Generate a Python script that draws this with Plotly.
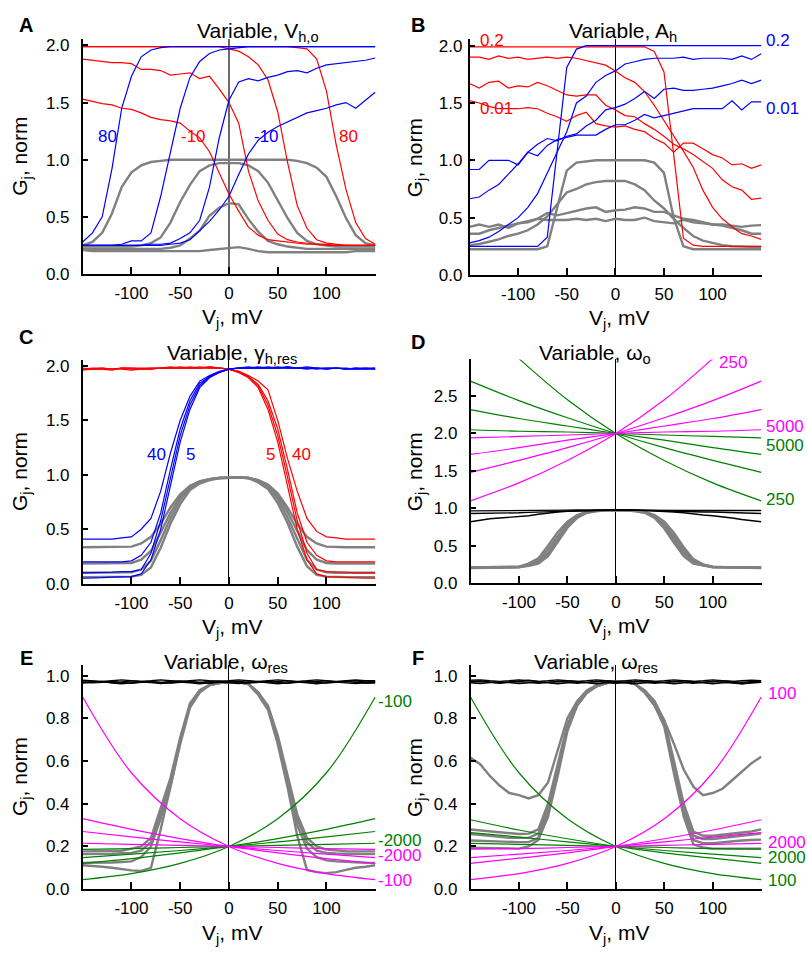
import plotly.graph_objects as go

W, H = 807, 957
FONT = "Arial, Liberation Sans, sans-serif"

RED, BLUE, GRAY, BLACK = "#FF0000", "#0000FF", "#808080", "#000000"
GREEN, MAG = "#008000", "#FF00FF"

V = [-150, -140, -130, -120, -110, -100, -90, -80, -70, -60, -50, -40, -30, -20, -10,
     0, 10, 20, 30, 40, 50, 60, 70, 80, 90, 100, 110, 120, 130, 140, 150]
V7 = [-150, -100, -50, 0, 50, 100, 150]

# ---------------- Panel A : Variable Vh,o ----------------
A_red = [
    [1.99, 1.99, 1.99, 1.99, 1.99, 1.99, 1.99, 1.99, 1.99, 1.99, 1.99, 1.99, 1.99, 1.99, 1.99, 1.99,
     1.99, 1.99, 1.99, 1.99, 1.99, 1.99, 1.98, 1.97, 1.88, 1.60, 1.13, 0.74, 0.45, 0.31, 0.26],
    [1.99, 1.99, 1.99, 1.99, 1.99, 1.99, 1.99, 1.99, 1.99, 1.99, 1.99, 1.99, 1.99, 1.99, 1.99, 1.97,
     1.95, 1.90, 1.83, 1.70, 1.42, 0.98, 0.60, 0.40, 0.30, 0.27, 0.26, 0.25, 0.25, 0.25, 0.25],
    [1.88, 1.87, 1.86, 1.85, 1.85, 1.84, 1.79, 1.79, 1.78, 1.74, 1.75, 1.76, 1.71, 1.73, 1.62, 1.50,
     1.32, 0.90, 0.64, 0.47, 0.35, 0.30, 0.28, 0.27, 0.26, 0.26, 0.25, 0.25, 0.25, 0.25, 0.25],
    [1.53, 1.51, 1.49, 1.48, 1.45, 1.44, 1.41, 1.37, 1.35, 1.34, 1.32, 1.25, 1.19, 1.07, 0.88, 0.70,
     0.55, 0.41, 0.34, 0.30, 0.29, 0.28, 0.27, 0.26, 0.26, 0.25, 0.25, 0.25, 0.25, 0.25, 0.25],
]
A_blue = [
    [0.28, 0.36, 0.50, 0.92, 1.45, 1.73, 1.90, 1.96, 1.98, 1.99, 1.99, 1.99, 1.99, 1.99, 1.99, 1.99,
     1.99, 1.99, 1.99, 1.99, 1.99, 1.99, 1.99, 1.99, 1.99, 1.99, 1.99, 1.99, 1.99, 1.99, 1.99],
    [0.25, 0.25, 0.25, 0.25, 0.26, 0.29, 0.29, 0.36, 0.68, 1.06, 1.45, 1.72, 1.86, 1.93, 1.96, 1.97,
     1.98, 1.99, 1.99, 1.99, 1.99, 1.99, 1.99, 1.99, 1.99, 1.99, 1.99, 1.99, 1.99, 1.99, 1.99],
    [0.25, 0.25, 0.25, 0.25, 0.25, 0.25, 0.25, 0.26, 0.26, 0.27, 0.31, 0.36, 0.47, 0.76, 1.19, 1.52,
     1.68, 1.71, 1.69, 1.72, 1.74, 1.77, 1.78, 1.76, 1.80, 1.83, 1.84, 1.85, 1.86, 1.87, 1.89],
    [0.25, 0.25, 0.25, 0.25, 0.25, 0.25, 0.25, 0.25, 0.25, 0.26, 0.27, 0.30, 0.38, 0.46, 0.56, 0.68,
     0.87, 1.05, 1.17, 1.24, 1.29, 1.33, 1.37, 1.41, 1.43, 1.45, 1.48, 1.50, 1.45, 1.52, 1.59],
]
A_gray = [
    [0.25, 0.28, 0.36, 0.53, 0.76, 0.89, 0.95, 0.98, 0.99, 1.00, 1.00, 1.00, 1.00, 1.00, 1.00, 1.00,
     1.00, 1.00, 1.00, 1.00, 1.00, 1.00, 0.99, 0.97, 0.93, 0.85, 0.68, 0.49, 0.34, 0.27, 0.25],
    [0.24, 0.24, 0.24, 0.24, 0.24, 0.24, 0.25, 0.27, 0.32, 0.45, 0.63, 0.78, 0.90, 0.95, 0.97, 0.97,
     0.97, 0.95, 0.90, 0.80, 0.65, 0.49, 0.36, 0.29, 0.26, 0.25, 0.24, 0.24, 0.24, 0.24, 0.24],
    [0.22, 0.22, 0.22, 0.22, 0.22, 0.22, 0.22, 0.22, 0.22, 0.23, 0.25, 0.31, 0.38, 0.51, 0.58, 0.62,
     0.61, 0.48, 0.37, 0.29, 0.26, 0.24, 0.23, 0.22, 0.22, 0.22, 0.22, 0.22, 0.22, 0.22, 0.22],
    [0.21, 0.20, 0.20, 0.20, 0.20, 0.20, 0.20, 0.20, 0.20, 0.20, 0.20, 0.20, 0.20, 0.21, 0.22, 0.23,
     0.235, 0.22, 0.20, 0.19, 0.19, 0.19, 0.19, 0.19, 0.19, 0.19, 0.19, 0.19, 0.20, 0.20, 0.20],
]

# ---------------- Panel B : Variable Ah ----------------
B_red = [
    [1.99, 1.99, 1.99, 1.99, 1.99, 1.99, 1.99, 1.99, 1.99, 1.99, 1.99, 1.99, 1.99, 1.99, 1.99, 1.99,
     1.99, 1.99, 1.99, 1.95, 1.77, 1.05, 0.32, 0.26, 0.25, 0.25, 0.25, 0.25, 0.25, 0.25, 0.25],
    [1.90, 1.90, 1.88, 1.91, 1.89, 1.90, 1.88, 1.89, 1.90, 1.89, 1.90, 1.89, 1.87, 1.85, 1.83, 1.78,
     1.72, 1.68, 1.60, 1.48, 1.35, 1.21, 1.08, 0.94, 0.74, 0.59, 0.49, 0.42, 0.36, 0.34, 0.31],
    [1.67, 1.63, 1.68, 1.69, 1.63, 1.65, 1.64, 1.68, 1.65, 1.61, 1.57, 1.56, 1.57, 1.57, 1.48, 1.44,
     1.39, 1.38, 1.32, 1.27, 1.21, 1.14, 1.10, 1.05, 0.99, 0.93, 0.83, 0.77, 0.74, 0.66, 0.67],
    [1.52, 1.50, 1.47, 1.45, 1.45, 1.45, 1.46, 1.45, 1.41, 1.38, 1.34, 1.39, 1.42, 1.32, 1.30, 1.29,
     1.30, 1.27, 1.25, 1.19, 1.15, 1.07, 1.15, 1.15, 1.10, 1.05, 1.02, 0.96, 0.97, 0.93, 0.96],
]
B_blue = [
    [0.25, 0.25, 0.25, 0.25, 0.25, 0.25, 0.25, 0.25, 0.33, 1.08, 1.81, 1.97, 2.00, 2.00, 2.00, 2.00,
     2.00, 2.00, 2.00, 2.00, 2.00, 2.00, 2.00, 2.00, 2.00, 2.00, 2.00, 2.00, 2.00, 2.00, 2.00],
    [0.28, 0.30, 0.33, 0.38, 0.44, 0.50, 0.59, 0.71, 0.89, 1.07, 1.25, 1.50, 1.56, 1.68, 1.74, 1.78,
     1.84, 1.86, 1.88, 1.89, 1.89, 1.89, 1.90, 1.88, 1.89, 1.89, 1.89, 1.88, 1.91, 1.88, 1.93],
    [0.665, 0.68, 0.74, 0.79, 0.88, 0.97, 1.07, 1.14, 1.19, 1.17, 1.21, 1.23, 1.30, 1.35, 1.44, 1.46,
     1.49, 1.54, 1.60, 1.54, 1.62, 1.63, 1.61, 1.61, 1.62, 1.63, 1.65, 1.67, 1.70, 1.67, 1.70],
    [0.92, 0.92, 1.00, 1.00, 1.00, 0.96, 1.07, 1.04, 1.13, 1.18, 1.20, 1.22, 1.22, 1.22, 1.27, 1.31,
     1.31, 1.35, 1.40, 1.37, 1.39, 1.41, 1.43, 1.45, 1.45, 1.45, 1.45, 1.52, 1.44, 1.51, 1.51],
]
B_gray = [
    [0.225, 0.225, 0.225, 0.225, 0.225, 0.225, 0.225, 0.225, 0.25, 0.58, 0.91, 0.98, 0.99, 1.00, 1.00, 1.00,
     1.00, 1.00, 1.00, 0.98, 0.89, 0.50, 0.25, 0.225, 0.225, 0.225, 0.225, 0.225, 0.225, 0.225, 0.225],
    [0.26, 0.27, 0.29, 0.31, 0.34, 0.36, 0.39, 0.44, 0.51, 0.62, 0.72, 0.75, 0.79, 0.81, 0.82, 0.82,
     0.82, 0.79, 0.74, 0.65, 0.58, 0.49, 0.41, 0.34, 0.30, 0.28, 0.26, 0.25, 0.245, 0.245, 0.245],
    [0.36, 0.36, 0.39, 0.41, 0.43, 0.45, 0.47, 0.49, 0.54, 0.52, 0.54, 0.56, 0.58, 0.59, 0.55, 0.565,
     0.57, 0.59, 0.58, 0.55, 0.55, 0.52, 0.49, 0.48, 0.46, 0.44, 0.43, 0.41, 0.39, 0.36, 0.36],
    [0.42, 0.44, 0.42, 0.44, 0.41, 0.45, 0.46, 0.49, 0.48, 0.48, 0.48, 0.49, 0.48, 0.49, 0.47, 0.49,
     0.48, 0.48, 0.50, 0.47, 0.46, 0.45, 0.48, 0.46, 0.45, 0.44, 0.44, 0.43, 0.42, 0.43, 0.435],
]

# ---------------- Panel C : Variable gamma h,res ----------------
C_blue = [
    [0.41, 0.41, 0.41, 0.41, 0.42, 0.43, 0.50, 0.60, 0.85, 1.20, 1.50, 1.72, 1.86, 1.91, 1.95, 1.97,
     1.98, 1.98, 1.99, 1.98, 1.98, 1.99, 1.98, 1.98, 1.97, 1.98, 1.98, 1.97, 1.98, 1.98, 1.98],
    [0.20, 0.20, 0.20, 0.20, 0.20, 0.21, 0.26, 0.38, 0.65, 1.05, 1.42, 1.68, 1.84, 1.90, 1.94, 1.97,
     1.98, 1.99, 1.98, 1.98, 1.99, 1.98, 1.98, 1.99, 1.98, 1.97, 1.98, 1.98, 1.97, 1.97, 1.98],
    [0.10, 0.10, 0.10, 0.105, 0.11, 0.11, 0.13, 0.28, 0.58, 0.98, 1.36, 1.64, 1.82, 1.90, 1.94, 1.97,
     1.98, 1.98, 1.98, 1.99, 1.98, 1.98, 1.98, 1.97, 1.98, 1.98, 1.98, 1.97, 1.97, 1.98, 1.97],
    [0.05, 0.05, 0.055, 0.06, 0.06, 0.065, 0.09, 0.22, 0.50, 0.90, 1.30, 1.60, 1.80, 1.89, 1.94, 1.97,
     1.98, 1.98, 1.98, 1.98, 1.98, 1.99, 1.98, 1.98, 1.98, 1.97, 1.98, 1.97, 1.98, 1.97, 1.97],
]
C_red = [
    [1.97, 1.98, 1.98, 1.97, 1.98, 1.98, 1.98, 1.98, 1.98, 1.98, 1.99, 1.98, 1.98, 1.99, 1.98, 1.97,
     1.95, 1.91, 1.86, 1.78, 1.50, 1.15, 0.85, 0.60, 0.48, 0.43, 0.42, 0.41, 0.41, 0.41, 0.41],
    [1.98, 1.97, 1.97, 1.96, 1.98, 1.98, 1.97, 1.97, 1.98, 1.99, 1.98, 1.98, 1.99, 1.98, 1.98, 1.97,
     1.95, 1.90, 1.83, 1.68, 1.42, 1.05, 0.65, 0.38, 0.26, 0.21, 0.20, 0.20, 0.20, 0.20, 0.20],
    [1.97, 1.97, 1.98, 1.97, 1.97, 1.96, 1.97, 1.98, 1.98, 1.98, 1.98, 1.99, 1.98, 1.98, 1.98, 1.97,
     1.94, 1.90, 1.82, 1.64, 1.36, 0.98, 0.58, 0.28, 0.13, 0.11, 0.11, 0.105, 0.10, 0.10, 0.10],
    [1.96, 1.97, 1.97, 1.97, 1.98, 1.97, 1.97, 1.97, 1.98, 1.98, 1.98, 1.98, 1.98, 1.99, 1.98, 1.97,
     1.94, 1.89, 1.80, 1.60, 1.30, 0.90, 0.50, 0.22, 0.09, 0.065, 0.06, 0.06, 0.055, 0.05, 0.05],
]
C_gray = [
    [0.335, 0.335, 0.335, 0.335, 0.335, 0.34, 0.37, 0.43, 0.55, 0.70, 0.82, 0.90, 0.94, 0.96, 0.97, 0.975,
     0.975, 0.97, 0.95, 0.91, 0.83, 0.70, 0.55, 0.43, 0.37, 0.34, 0.335, 0.335, 0.335, 0.335, 0.335],
    [0.185, 0.185, 0.185, 0.185, 0.185, 0.19, 0.22, 0.30, 0.47, 0.65, 0.80, 0.89, 0.94, 0.96, 0.97, 0.975,
     0.975, 0.97, 0.95, 0.90, 0.81, 0.66, 0.48, 0.31, 0.22, 0.19, 0.185, 0.185, 0.185, 0.185, 0.185],
    [0.10, 0.10, 0.10, 0.10, 0.10, 0.105, 0.13, 0.21, 0.40, 0.60, 0.77, 0.88, 0.93, 0.96, 0.97, 0.975,
     0.975, 0.97, 0.94, 0.89, 0.78, 0.61, 0.41, 0.22, 0.13, 0.105, 0.10, 0.10, 0.10, 0.10, 0.10],
    [0.06, 0.06, 0.06, 0.06, 0.06, 0.065, 0.08, 0.15, 0.33, 0.55, 0.73, 0.86, 0.92, 0.95, 0.97, 0.975,
     0.975, 0.97, 0.93, 0.87, 0.74, 0.56, 0.34, 0.16, 0.08, 0.065, 0.06, 0.06, 0.06, 0.06, 0.06],
]

# ---------------- Panel D : Variable omega o ----------------
D_green = [
    [None, 3.00, 2.45, 2.00, 1.64, 1.34, 1.10],
    [2.70, 2.44, 2.21, 2.00, 1.81, 1.64, 1.48],
    [2.32, 2.20, 2.10, 2.00, 1.91, 1.81, 1.72],
    [2.05, 2.03, 2.02, 2.00, 1.98, 1.96, 1.94],
]
D_mag = [
    [1.10, 1.34, 1.64, 2.00, 2.45, 3.00, None],
    [1.48, 1.64, 1.81, 2.00, 2.21, 2.44, 2.70],
    [1.72, 1.81, 1.91, 2.00, 2.10, 2.20, 2.32],
    [1.94, 1.96, 1.98, 2.00, 2.02, 2.03, 2.05],
]
D_gray = [
    [0.21, 0.21, 0.21, 0.21, 0.215, 0.22, 0.26, 0.33, 0.50, 0.68, 0.82, 0.91, 0.95, 0.97, 0.975, 0.975,
     0.975, 0.97, 0.95, 0.91, 0.82, 0.67, 0.48, 0.32, 0.25, 0.22, 0.215, 0.21, 0.21, 0.21, 0.21],
    [0.21, 0.21, 0.21, 0.21, 0.21, 0.215, 0.25, 0.30, 0.45, 0.63, 0.80, 0.90, 0.95, 0.97, 0.975, 0.975,
     0.975, 0.97, 0.95, 0.90, 0.79, 0.62, 0.44, 0.30, 0.24, 0.215, 0.21, 0.21, 0.21, 0.21, 0.21],
    [0.205, 0.205, 0.205, 0.21, 0.21, 0.215, 0.24, 0.28, 0.40, 0.58, 0.76, 0.88, 0.94, 0.97, 0.975, 0.975,
     0.975, 0.97, 0.94, 0.88, 0.76, 0.58, 0.40, 0.28, 0.24, 0.215, 0.21, 0.21, 0.205, 0.205, 0.205],
    [0.20, 0.20, 0.20, 0.205, 0.21, 0.21, 0.23, 0.26, 0.36, 0.55, 0.74, 0.87, 0.94, 0.96, 0.975, 0.975,
     0.975, 0.96, 0.94, 0.87, 0.73, 0.54, 0.36, 0.26, 0.23, 0.21, 0.21, 0.205, 0.20, 0.20, 0.20],
]
D_black = [
    [0.82, 0.84, 0.86, 0.87, 0.88, 0.88, 0.90, 0.92, 0.94, 0.95, 0.96, 0.965, 0.97, 0.975, 0.98, 0.98,
     0.98, 0.975, 0.97, 0.965, 0.96, 0.95, 0.94, 0.92, 0.91, 0.90, 0.89, 0.87, 0.85, 0.84, 0.82],
    [0.93, 0.93, 0.935, 0.94, 0.94, 0.94, 0.945, 0.95, 0.955, 0.96, 0.96, 0.965, 0.97, 0.975, 0.98, 0.98,
     0.98, 0.975, 0.97, 0.965, 0.965, 0.96, 0.955, 0.95, 0.95, 0.95, 0.945, 0.94, 0.94, 0.935, 0.93],
    [0.965, 0.965, 0.97, 0.968, 0.97, 0.97, 0.972, 0.97, 0.975, 0.975, 0.975, 0.978, 0.978, 0.98, 0.98, 0.982,
     0.98, 0.98, 0.978, 0.975, 0.975, 0.975, 0.972, 0.97, 0.97, 0.972, 0.97, 0.97, 0.968, 0.97, 0.97],
]

# ---------------- Panel E : Variable omega res ----------------
E_mag = [
    [0.90, 0.545, 0.33, 0.20, 0.121, 0.073, 0.045],
    [0.33, 0.28, 0.237, 0.20, 0.17, 0.143, 0.121],
    [0.27, 0.245, 0.221, 0.20, 0.181, 0.164, 0.148],
    [0.215, 0.21, 0.205, 0.20, 0.195, 0.19, 0.186],
]
E_green = [
    [0.045, 0.073, 0.121, 0.20, 0.33, 0.545, 0.90],
    [0.121, 0.143, 0.17, 0.20, 0.237, 0.28, 0.33],
    [0.148, 0.164, 0.181, 0.20, 0.221, 0.245, 0.27],
    [0.186, 0.19, 0.195, 0.20, 0.205, 0.21, 0.215],
]
E_gray = [
    [0.177, 0.177, 0.178, 0.18, 0.18, 0.19, 0.20, 0.24, 0.38, 0.52, 0.71, 0.87, 0.93, 0.955, 0.965, 0.97,
     0.97, 0.96, 0.92, 0.86, 0.72, 0.53, 0.35, 0.24, 0.20, 0.185, 0.18, 0.178, 0.177, 0.177, 0.177],
    [0.164, 0.164, 0.165, 0.166, 0.168, 0.17, 0.18, 0.22, 0.36, 0.50, 0.70, 0.86, 0.93, 0.955, 0.965, 0.97,
     0.97, 0.96, 0.92, 0.85, 0.71, 0.51, 0.33, 0.22, 0.18, 0.17, 0.167, 0.165, 0.164, 0.164, 0.164],
    [0.123, 0.123, 0.124, 0.125, 0.127, 0.13, 0.15, 0.20, 0.33, 0.48, 0.69, 0.86, 0.93, 0.955, 0.965, 0.97,
     0.97, 0.96, 0.92, 0.85, 0.70, 0.49, 0.30, 0.19, 0.15, 0.135, 0.13, 0.127, 0.125, 0.123, 0.123],
    [0.112, 0.11, 0.105, 0.10, 0.093, 0.088, 0.085, 0.10, 0.28, 0.48, 0.68, 0.85, 0.92, 0.955, 0.965, 0.97,
     0.97, 0.96, 0.91, 0.84, 0.68, 0.48, 0.25, 0.09, 0.08, 0.075, 0.08, 0.09, 0.10, 0.105, 0.112],
]
E_black = [
    [0.975, 0.972, 0.970, 0.968, 0.970, 0.975, 0.972, 0.970, 0.968, 0.972, 0.975, 0.970, 0.968, 0.972, 0.975, 0.970,
     0.972, 0.975, 0.970, 0.968, 0.972, 0.975, 0.970, 0.968, 0.972, 0.975, 0.970, 0.972, 0.975, 0.970, 0.972],
    [0.965, 0.968, 0.972, 0.965, 0.962, 0.966, 0.970, 0.967, 0.963, 0.966, 0.970, 0.966, 0.962, 0.966, 0.970, 0.966,
     0.963, 0.967, 0.972, 0.966, 0.962, 0.966, 0.970, 0.966, 0.962, 0.967, 0.970, 0.966, 0.963, 0.966, 0.965],
    [0.978, 0.975, 0.972, 0.976, 0.980, 0.976, 0.973, 0.976, 0.980, 0.976, 0.972, 0.976, 0.980, 0.976, 0.973, 0.976,
     0.980, 0.976, 0.972, 0.976, 0.980, 0.976, 0.973, 0.976, 0.980, 0.976, 0.972, 0.976, 0.979, 0.976, 0.976],
    [0.970, 0.966, 0.968, 0.972, 0.968, 0.964, 0.968, 0.972, 0.968, 0.965, 0.968, 0.972, 0.968, 0.964, 0.968, 0.972,
     0.968, 0.965, 0.968, 0.972, 0.968, 0.964, 0.968, 0.972, 0.968, 0.965, 0.968, 0.972, 0.968, 0.965, 0.968],
]

# ---------------- Panel F : Variable omega res ----------------
F_green = [
    [0.90, 0.545, 0.33, 0.20, 0.121, 0.073, 0.045],
    [0.325, 0.277, 0.236, 0.20, 0.17, 0.145, 0.121],
    [0.265, 0.244, 0.221, 0.20, 0.181, 0.164, 0.148],
    [0.214, 0.21, 0.205, 0.20, 0.195, 0.19, 0.187],
]
F_mag = [
    [0.045, 0.073, 0.121, 0.20, 0.33, 0.545, 0.90],
    [0.121, 0.145, 0.17, 0.20, 0.236, 0.277, 0.325],
    [0.148, 0.164, 0.181, 0.20, 0.221, 0.244, 0.265],
    [0.187, 0.19, 0.195, 0.20, 0.205, 0.21, 0.214],
]
F_gray = [
    [0.615, 0.585, 0.53, 0.485, 0.45, 0.44, 0.425, 0.44, 0.50, 0.65, 0.80, 0.88, 0.93, 0.955, 0.965, 0.97,
     0.97, 0.96, 0.93, 0.88, 0.79, 0.68, 0.56, 0.48, 0.44, 0.45, 0.47, 0.51, 0.55, 0.59, 0.62],
    [0.279, 0.275, 0.27, 0.265, 0.26, 0.258, 0.26, 0.28, 0.40, 0.58, 0.77, 0.87, 0.92, 0.95, 0.965, 0.97,
     0.97, 0.96, 0.92, 0.87, 0.79, 0.60, 0.40, 0.27, 0.25, 0.25, 0.255, 0.26, 0.265, 0.27, 0.28],
    [0.258, 0.255, 0.25, 0.245, 0.24, 0.24, 0.24, 0.26, 0.38, 0.57, 0.76, 0.87, 0.92, 0.95, 0.965, 0.97,
     0.97, 0.96, 0.92, 0.87, 0.78, 0.58, 0.38, 0.25, 0.235, 0.235, 0.24, 0.245, 0.25, 0.255, 0.26],
    [0.228, 0.226, 0.224, 0.222, 0.22, 0.22, 0.22, 0.24, 0.36, 0.55, 0.75, 0.86, 0.92, 0.95, 0.965, 0.97,
     0.97, 0.96, 0.92, 0.86, 0.77, 0.56, 0.36, 0.23, 0.215, 0.215, 0.22, 0.225, 0.228, 0.23, 0.232],
    [0.194, 0.193, 0.192, 0.191, 0.19, 0.19, 0.20, 0.23, 0.34, 0.53, 0.74, 0.86, 0.92, 0.95, 0.965, 0.97,
     0.97, 0.96, 0.92, 0.86, 0.76, 0.54, 0.34, 0.21, 0.195, 0.19, 0.19, 0.19, 0.19, 0.19, 0.19],
]
F_black = [
    [0.972, 0.975, 0.970, 0.966, 0.970, 0.975, 0.978, 0.972, 0.968, 0.972, 0.976, 0.972, 0.968, 0.972, 0.976, 0.972,
     0.968, 0.972, 0.976, 0.972, 0.968, 0.972, 0.976, 0.972, 0.968, 0.972, 0.976, 0.972, 0.968, 0.972, 0.974],
    [0.966, 0.963, 0.967, 0.971, 0.967, 0.963, 0.966, 0.970, 0.966, 0.962, 0.966, 0.970, 0.966, 0.962, 0.966, 0.970,
     0.966, 0.962, 0.966, 0.970, 0.966, 0.962, 0.966, 0.970, 0.966, 0.962, 0.966, 0.970, 0.962, 0.966, 0.968],
    [0.978, 0.980, 0.976, 0.973, 0.976, 0.980, 0.976, 0.973, 0.976, 0.980, 0.976, 0.973, 0.976, 0.980, 0.976, 0.973,
     0.976, 0.980, 0.976, 0.973, 0.976, 0.980, 0.976, 0.973, 0.976, 0.980, 0.976, 0.973, 0.976, 0.978, 0.976],
    [0.969, 0.972, 0.968, 0.964, 0.968, 0.972, 0.968, 0.964, 0.968, 0.972, 0.968, 0.964, 0.968, 0.972, 0.968, 0.964,
     0.968, 0.972, 0.968, 0.964, 0.968, 0.972, 0.968, 0.964, 0.968, 0.972, 0.968, 0.964, 0.962, 0.968, 0.970],
]

# ---------------- layout helpers ----------------
def fx(p):
    return p / W


def fy(p):
    return 1 - p / H


fig = go.Figure()


def add(xs, ys, color, width, ax, shape="linear"):
    fig.add_trace(go.Scatter(x=xs, y=ys, mode="lines", line=dict(color=color, width=width, shape=shape),
                             xaxis="x" + ax, yaxis="y" + ax, showlegend=False, hoverinfo="skip"))


GW, CW, KW = 2.4, 1.2, 1.4
# A
for s in A_gray:
    add(V, s, GRAY, GW, "")
for s in A_red:
    add(V, s, RED, CW, "")
for s in A_blue:
    add(V, s, BLUE, CW, "")
# B
for s in B_gray:
    add(V, s, GRAY, GW, "2")
for s in B_red:
    add(V, s, RED, CW, "2")
for s in B_blue:
    add(V, s, BLUE, CW, "2")
# C
for s in C_gray:
    add(V, s, GRAY, GW, "3")
for s in C_red:
    add(V, s, RED, CW, "3")
for s in C_blue:
    add(V, s, BLUE, CW, "3")
# D
for s in D_gray:
    add(V, s, GRAY, GW, "4")
for s in D_black:
    add(V, s, BLACK, KW, "4")
for s in D_green:
    add(V7, s, GREEN, CW, "4", "spline")
for s in D_mag:
    add(V7, s, MAG, CW, "4", "spline")
# E
for s in E_gray:
    add(V, s, GRAY, GW, "5")
for s in E_black:
    add(V, s, BLACK, KW, "5")
for s in E_green:
    add(V7, s, GREEN, CW, "5", "spline")
for s in E_mag:
    add(V7, s, MAG, CW, "5", "spline")
# F
for s in F_gray:
    add(V, s, GRAY, GW, "6")
for s in F_black:
    add(V, s, BLACK, KW, "6")
for s in F_green:
    add(V7, s, GREEN, CW, "6", "spline")
for s in F_mag:
    add(V7, s, MAG, CW, "6", "spline")

# plot-area pixel boxes (left, right, top, bottom)
BOX = {
    "": (82.7, 375.7, 36.0, 274.0),
    "2": (469.5, 761.7, 36.0, 275.0),
    "3": (82.7, 375.7, 361.7, 588.3),
    "4": (470.5, 761.7, 360.7, 587.7),
    "5": (82.7, 375.7, 670.7, 898.3),
    "6": (470.5, 761.7, 670.7, 898.3),
}
YR = {"": 2.052, "2": 2.054, "3": 2.05, "4": 2.99, "5": 1.05, "6": 1.05}
YT = {"": [0, 0.5, 1, 1.5, 2], "2": [0, 0.5, 1, 1.5, 2], "3": [0, 0.5, 1, 1.5, 2],
      "4": [0, 0.5, 1, 1.5, 2, 2.5], "5": [0, 0.2, 0.4, 0.6, 0.8, 1.0], "6": [0, 0.2, 0.4, 0.6, 0.8, 1.0]}
XT = [-100, -50, 0, 50, 100]

lay = dict(width=W, height=H, margin=dict(l=0, r=0, t=0, b=0), paper_bgcolor="white",
           plot_bgcolor="white", font=dict(family=FONT, color="black"))
tf = dict(family=FONT, size=17, color="black")
for k, (l, r, t, b) in BOX.items():
    xa = "xaxis" + k
    ya = "yaxis" + k
    zc = "#6a6a6a" if k == "" else "black"
    zw = 2 if k == "" else 1
    lay[xa] = dict(domain=[fx(l), fx(r)], range=[-150, 150.5], anchor="y" + k, showline=True,
                   linecolor="black", linewidth=1.5, ticks="inside", ticklen=7, tickwidth=1.5,
                   tickcolor="black", tickvals=XT, ticktext=[str(v) for v in XT], showgrid=False,
                   zeroline=True, zerolinecolor=zc, zerolinewidth=zw, tickfont=tf, ticklabelstandoff=3)
    lay[ya] = dict(domain=[fy(b), fy(t)], range=[0, YR[k]], anchor="x" + k, showline=True,
                   linecolor="black", linewidth=1.5, ticks="inside", ticklen=6, tickwidth=1.5,
                   tickcolor="black", tickvals=YT[k], tickformat=".1f", showgrid=False,
                   zeroline=False, tickfont=tf, ticklabelstandoff=8 if k != "2" else 2)

ann = []


def txt(x, y, s, color="black", size=17, xa="center", ya="middle", angle=0):
    ann.append(dict(x=fx(x), y=fy(y), xref="paper", yref="paper", text=s, showarrow=False,
                    font=dict(family=FONT, size=size, color=color), xanchor=xa, yanchor=ya,
                    textangle=angle))


# panel letters
for L, x, y in [("A", 26.5, 20), ("B", 418.5, 20), ("C", 26.5, 336.5), ("D", 418.5, 342),
                ("E", 26.5, 663), ("F", 418.5, 663)]:
    txt(x, y + 1, "<b>" + L + "</b>", size=20)

# titles
txt(195, 28, "Variable, V<sub>h,o</sub>", size=21, xa="left")
txt(567, 28, "Variable, A<sub>h</sub>", size=21, xa="left")
txt(165, 355, "Variable, γ<sub>h,res</sub>", size=21, xa="left")
txt(537, 355, "Variable, ω<sub>o</sub>", size=21, xa="left")
txt(162, 669, "Variable, ω<sub>res</sub>", size=21, xa="left")
txt(532, 669, "Variable, ω<sub>res</sub>", size=21, xa="left")

# axis titles
for k, (l, r, t, b) in BOX.items():
    ytx = 21 if l < 200 else 416
    txt(ytx, (t + b) / 2, "G<sub>j</sub>, norm", size=21, angle=-90)
    txt((l + r) / 2 + 3, b + 45, "V<sub>j</sub>, mV", size=21)

# curve labels
LAB = [
    (108, 134, "80", BLUE, "center"), (193.5, 134, "-10", RED, "center"),
    (266.7, 134, "-10", BLUE, "center"), (348, 134, "80", RED, "center"),
    (491.5, 37, "0.2", RED, "center"), (496.5, 106, "0.01", RED, "center"),
    (764, 37, "0.2", BLUE, "left"), (764, 106, "0.01", BLUE, "left"),
    (156.5, 457, "40", BLUE, "center"), (190, 457, "5", BLUE, "center"),
    (270, 457, "5", RED, "center"), (301, 457, "40", RED, "center"),
    (717, 364, "250", MAG, "left"), (764, 429, "5000", MAG, "left"),
    (764, 448, "5000", GREEN, "left"), (764, 503, "250", GREEN, "left"),
    (376, 708, "-100", GREEN, "left"), (376, 849, "-2000", GREEN, "left"),
    (376, 864, "-2000", MAG, "left"), (376, 890, "-100", MAG, "left"),
    (766, 700, "100", MAG, "left"), (766, 851, "2000", MAG, "left"),
    (766, 866, "2000", GREEN, "left"), (766, 890, "100", GREEN, "left"),
]
for x, y, s, c, xa in LAB:
    txt(x, y, s, c, xa=xa)

lay["annotations"] = ann
fig.update_layout(**lay)
fig.write_html("out.html")
